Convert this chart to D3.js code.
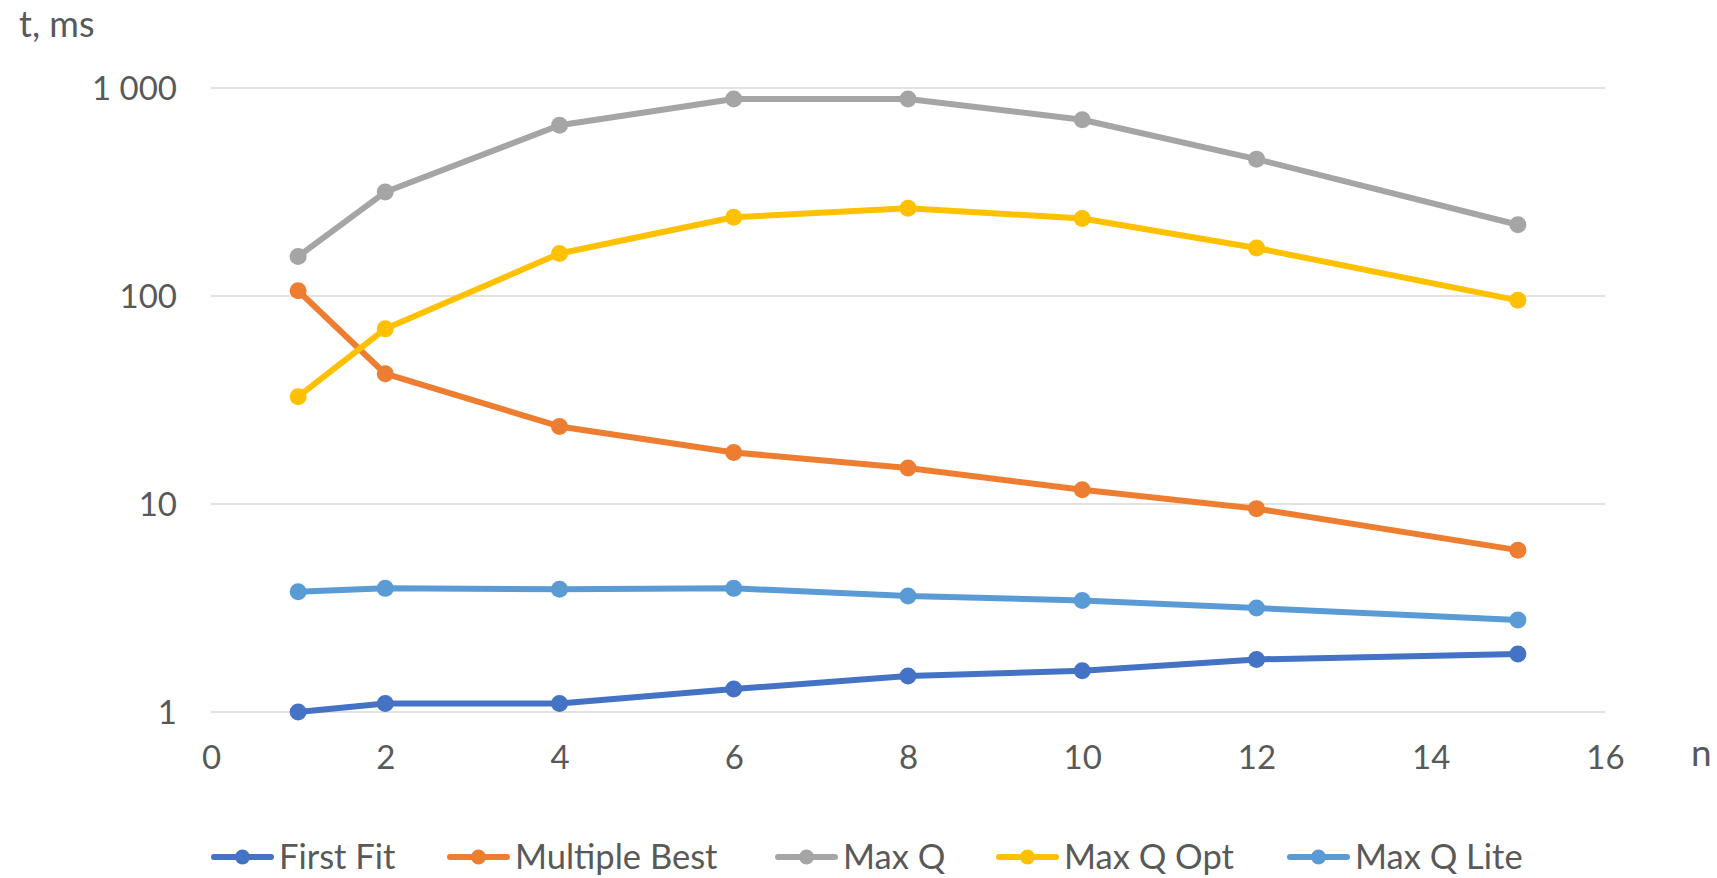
<!DOCTYPE html>
<html>
<head>
<meta charset="utf-8">
<script src="https://cdn.jsdelivr.net/npm/d3@7"></script>
<style>
  html, body { margin: 0; padding: 0; background: #fff; }
  svg { display: block; }
  text { font-family: Lato, "Open Sans", sans-serif; fill: #595959; }
</style>
</head>
<body>
<svg id="chart" width="1717" height="878"></svg>
<script>
// Processing time per queue count n, milliseconds (log scale)
const nValues = [1, 2, 4, 6, 8, 10, 12, 15];
const firstFit     = [1.0, 1.10, 1.10, 1.29, 1.49, 1.58, 1.79, 1.90];
const multipleBest = [106, 42.3, 23.6, 17.7, 14.9, 11.7, 9.5, 6.0];
const maxQ         = [155, 316, 662, 886, 886, 704, 455, 220];
const maxQOpt      = [32.8, 69.5, 160, 239, 264, 236, 170, 95.3];
const maxQLite     = [3.79, 3.93, 3.89, 3.93, 3.61, 3.44, 3.16, 2.77];

const seriesNames  = ["First Fit", "Multiple Best", "Max Q", "Max Q Opt", "Max Q Lite"];
const seriesColors = ["#4472C4", "#ED7D31", "#A5A5A5", "#FFC000", "#5B9BD5"];
const seriesValues = [firstFit, multipleBest, maxQ, maxQOpt, maxQLite];

const xTicks = [0, 2, 4, 6, 8, 10, 12, 14, 16];
const yTicks = [1, 10, 100, 1000];
const yTickLabels = ["1", "10", "100", "1 000"];

const svg = d3.select("#chart");

const x = d3.scaleLinear().domain([0, 16]).range([211, 1605]);
const y = d3.scaleLog().domain([1, 1000]).range([712, 88]);

// horizontal gridlines
svg.append("g")
  .selectAll("line")
  .data(yTicks)
  .join("line")
  .attr("x1", x(0)).attr("x2", x(16))
  .attr("y1", d => y(d)).attr("y2", d => y(d))
  .attr("stroke", "#D9D9D9")
  .attr("stroke-width", 1.6);

// y axis labels
const yAxis = d3.axisLeft(y)
  .tickValues(yTicks)
  .tickFormat((d, i) => yTickLabels[i])
  .tickSize(0)
  .tickPadding(0);
const gy = svg.append("g").attr("transform", "translate(177,0)").call(yAxis);
gy.select(".domain").remove();
gy.selectAll("text")
  .attr("font-size", 33)
  .attr("font-family", "Lato, 'Open Sans', sans-serif")
  .attr("fill", "#595959")
  .attr("dy", "0.35em");

// x axis labels
const xAxis = d3.axisBottom(x)
  .tickValues(xTicks)
  .tickSize(0)
  .tickPadding(0)
  .tickFormat(d3.format("d"));
const gx = svg.append("g").attr("transform", "translate(0,757)").call(xAxis);
gx.select(".domain").remove();
gx.selectAll("text")
  .attr("font-size", 33)
  .attr("font-family", "Lato, 'Open Sans', sans-serif")
  .attr("fill", "#595959")
  .attr("dy", "0.35em");

// axis titles
svg.append("text").attr("x", 19).attr("y", 37).attr("font-size", 36).text("t, ms");
svg.append("text").attr("x", 1691).attr("y", 753).attr("dy", "0.35em").attr("font-size", 37).text("n");

// series lines and markers
const line = d3.line()
  .x((d, i) => x(nValues[i]))
  .y(d => y(d));

seriesValues.forEach((vals, si) => {
  const g = svg.append("g");
  g.append("path")
    .datum(vals)
    .attr("d", line)
    .attr("fill", "none")
    .attr("stroke", seriesColors[si])
    .attr("stroke-width", 6)
    .attr("stroke-linejoin", "round")
    .attr("stroke-linecap", "round");
  g.selectAll("circle")
    .data(vals)
    .join("circle")
    .attr("cx", (d, i) => x(nValues[i]))
    .attr("cy", d => y(d))
    .attr("r", 8.5)
    .attr("fill", seriesColors[si]);
});

// legend
const legendX = [211, 447, 775, 996, 1287];
const legendY = 857;
const lg = svg.append("g");
seriesNames.forEach((name, i) => {
  const gi = lg.append("g").attr("transform", `translate(${legendX[i]},${legendY})`);
  gi.append("line")
    .attr("x1", 3).attr("x2", 60)
    .attr("y1", 0).attr("y2", 0)
    .attr("stroke", seriesColors[i])
    .attr("stroke-width", 6)
    .attr("stroke-linecap", "round");
  gi.append("circle").attr("cx", 31.5).attr("cy", 0).attr("r", 7.5).attr("fill", seriesColors[i]);
  gi.append("text")
    .attr("x", 68).attr("y", 0).attr("dy", "0.35em")
    .attr("font-size", 34.5)
    .text(name);
});
</script>
</body>
</html>
